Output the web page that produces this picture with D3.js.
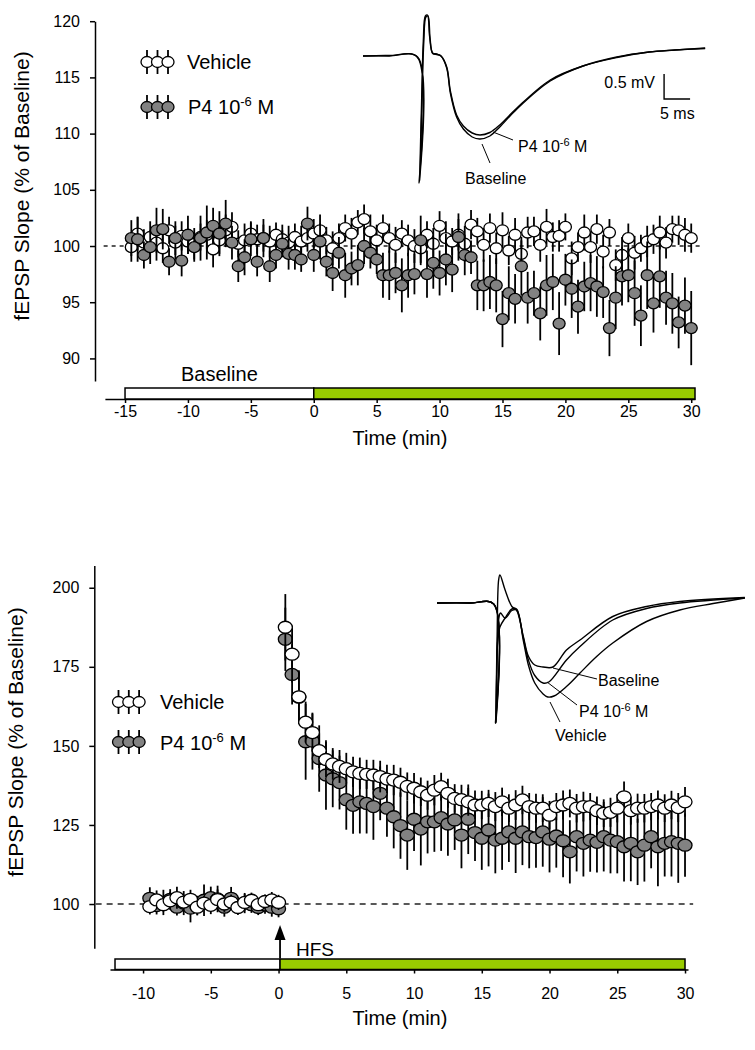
<!DOCTYPE html>
<html><head><meta charset="utf-8">
<script src="https://cdn.jsdelivr.net/npm/d3@7"></script>
<style>
body{margin:0;background:#fff}
svg{display:block}
text{font-family:"Liberation Sans",Arial,Helvetica,sans-serif;fill:#000}
</style></head>
<body><svg id="c" width="755" height="1050"></svg>
<script>
// ---------------- DATA ----------------
// Top panel: P4 10^-6 M alone (no HFS)
const topTime = [-14.5,-14,-13.5,-13,-12.5,-12,-11.5,-11,-10.5,-10,-9.5,-9,-8.5,-8,-7.5,-7,-6.5,-6,-5.5,-5,-4.5,-4,-3.5,-3,-2.5,-2,-1.5,-1,-0.5,0,0.5,1,1.5,2,2.5,3,3.5,4,4.5,5,5.5,6,6.5,7,7.5,8,8.5,9,9.5,10,10.5,11,11.5,12,12.5,13,13.5,14,14.5,15,15.5,16,16.5,17,17.5,18,18.5,19,19.5,20,20.5,21,21.5,22,22.5,23,23.5,24,24.5,25,25.5,26,26.5,27,27.5,28,28.5,29,29.5,30];
const topVehicle = [99.9,101.1,100.3,100.8,100.3,99.8,101.4,100.3,100.9,100.4,
100.2,100.8,101.0,99.7,100.5,101.4,101.7,100.2,100.5,101.1,
100.6,100.7,100.4,101.0,100.6,100.3,100.8,100.4,100.7,101.1,
101.4,100.5,99.8,100.7,101.6,101.1,102.1,102.4,101.3,100.5,
101.6,100.7,100.1,101.1,100.5,100.0,99.8,101.0,100.2,101.8,
100.7,100.4,101.0,100.2,101.9,101.3,100.1,101.6,
99.8,101.4,99.6,101.0,99.3,101.2,101.3,100.1,101.7,100.8,
100.9,101.7,98.9,99.9,101.2,99.9,101.5,99.5,101.2,98.3,
99.2,100.7,99.4,99.8,100.4,100.6,101.2,100.3,101.5,101.4,
101.0,100.7];
const topVehicleErr = [1.3,1.5,1.2,1.4,1.6,1.3,1.2,1.5,1.3,1.1,
1.4,1.2,1.3,1.6,1.2,1.4,1.3,1.2,1.5,1.1,
1.3,1.2,1.4,1.1,1.3,1.5,1.2,1.4,1.2,1.3,
1.4,1.2,1.5,1.3,1.2,1.4,1.1,1.3,1.5,1.4,
1.2,1.3,1.6,1.2,1.4,1.5,1.3,1.2,1.4,1.3,
1.5,1.2,1.4,1.6,1.3,1.2,1.5,1.3,
1.4,1.6,1.3,1.5,1.2,1.4,1.3,1.5,1.6,1.3,
1.4,1.2,1.5,1.3,1.6,1.4,1.3,1.5,1.2,1.4,
1.6,1.3,1.5,1.2,1.4,1.3,1.5,1.4,1.2,1.3,
1.5,1.3];
const topP4 = [100.7,100.6,99.2,99.9,101.4,101.5,98.6,100.7,98.7,101.0,
99.9,100.7,101.2,101.8,101.1,102.0,100.3,98.2,99.0,100.6,
98.6,100.7,98.2,99.2,100.2,99.3,99.2,98.8,102.0,99.2,
100.4,98.6,97.6,99.4,97.4,98.0,98.3,100.0,99.4,98.8,
97.4,97.4,97.6,96.5,97.4,97.5,100.5,97.5,98.5,97.6,
98.8,97.9,100.8,99.2,99.0,96.5,96.5,96.8,
96.5,93.5,95.8,95.3,98.2,95.4,95.8,94.0,96.5,96.8,
93.1,97.0,96.2,94.6,96.4,96.7,96.4,95.9,92.7,95.4,
97.3,97.4,95.8,93.8,97.4,94.9,97.3,95.4,94.9,93.2,
94.7,92.7];
const topP4Err = [1.6,2.0,1.2,1.5,2.0,1.8,1.2,1.5,1.4,1.7,
1.3,2.0,2.4,1.6,2.0,2.1,1.5,1.4,1.6,1.5,
1.3,1.7,1.4,1.2,1.2,1.4,1.3,1.1,1.5,1.5,
1.6,1.3,1.6,1.4,2.0,1.5,1.8,1.6,1.4,1.3,
2.0,2.2,1.8,2.4,2.0,1.8,2.2,2.1,2.3,2.0,
2.3,2.0,2.1,1.8,1.5,2.2,2.3,2.4,
2.4,2.5,2.4,2.2,2.6,2.3,2.0,2.4,2.7,2.5,
2.8,2.3,2.6,2.4,2.2,2.5,2.7,2.3,2.5,2.8,
2.6,2.4,2.9,2.7,3.0,2.6,2.8,2.4,2.7,2.3,
2.5,3.3];
const topYTicks = [90,95,100,105,110,115,120];
const topXTicks = [-15,-10,-5,0,5,10,15,20,25,30];
const topPhases = [[-15,0],[0,30.3]];   // baseline period, drug period (min)

// Bottom panel: LTP after HFS
const botTime = [-9.5,-9,-8.5,-8,-7.5,-7,-6.5,-6,-5.5,-5,-4.5,-4,-3.5,-3,-2.5,-2,-1.5,-1,-0.5,0,0.5,1,1.5,2,2.5,3,3.5,4,4.5,5,5.5,6,6.5,7,7.5,8,8.5,9,9.5,10,10.5,11,11.5,12,12.5,13,13.5,14,14.5,15,15.5,16,16.5,17,17.5,18,18.5,19,19.5,20,20.5,21,21.5,22,22.5,23,23.5,24,24.5,25,25.5,26,26.5,27,27.5,28,28.5,29,29.5,30];
const botVehicle = [99.2,101.3,99.8,101.0,102.0,100.6,101.5,99.0,100.3,99.6,
101.4,100.0,100.6,98.9,100.5,101.2,99.8,100.8,101.3,100.5,
187.5,179.0,165.5,157.5,154.2,148.5,145.7,144.3,143.5,142.8,
141.8,141.3,141.0,140.8,140.3,139.5,139.2,138.5,137.2,136.6,
135.5,134.4,136.0,137.1,135.0,133.4,133.0,132.3,131.3,131.3,
131.8,130.8,132.3,130.3,131.3,132.9,130.8,130.3,130.3,128.1,
130.8,131.3,131.8,130.3,130.8,130.8,129.5,128.7,129.0,130.3,
133.9,129.5,130.3,130.3,130.8,131.3,130.3,131.3,130.5,132.3];
const botVehicleErr = [2.5,3.0,2.2,2.8,3.5,2.4,3.0,2.6,2.2,2.8,
3.2,2.5,2.4,2.2,2.6,2.4,2.0,2.2,2.5,2.4,
10.5,9.0,8.0,6.5,6.0,5.5,5.5,5.0,5.2,5.0,
4.8,5.0,4.6,4.8,5.0,4.5,4.8,4.6,4.4,4.8,
4.5,4.6,4.8,4.4,4.6,4.5,4.7,4.4,4.6,4.5,
4.3,4.6,4.5,4.4,4.7,4.5,4.3,4.6,4.4,4.5,
4.3,4.6,4.4,4.5,4.7,4.3,4.5,4.4,4.6,4.5,
4.8,4.4,4.6,4.5,4.3,4.6,4.4,4.5,4.6,4.7];
const botP4 = [101.8,99.5,100.5,101.5,99.0,100.3,98.7,99.6,101.2,102.0,
101.6,99.0,101.8,99.4,100.3,99.8,98.9,99.7,99.0,98.5,
183.7,172.6,165.4,151.3,151.5,146.0,140.8,139.6,138.4,133.0,
131.2,132.3,131.8,130.8,135.0,130.3,127.6,124.8,121.8,126.8,
123.7,126.0,126.0,127.3,125.3,126.6,121.8,126.8,122.6,120.8,
123.4,120.2,120.8,122.8,120.8,122.8,121.3,121.0,122.8,120.5,
121.5,120.0,116.5,121.3,119.2,120.2,119.5,121.3,120.2,119.7,
118.1,119.2,116.5,118.6,121.3,118.1,119.2,119.7,119.2,118.6];
const botP4Err = [3.5,2.8,4.0,3.2,2.6,3.8,4.5,3.0,5.0,3.5,
4.2,3.0,3.6,2.8,3.2,2.6,2.4,2.8,3.0,2.7,
10.0,9.5,8.5,12.0,9.0,10.5,11.0,9.0,8.5,9.5,
9.0,10.0,9.5,10.5,8.5,9.0,10.0,10.5,11.0,10.0,
11.5,10.0,9.5,10.5,10.0,9.5,10.5,11.0,9.0,10.0,
11.5,10.5,10.0,9.5,11.0,10.5,10.0,9.5,11.0,10.5,
10.0,11.5,10.0,11.0,10.5,10.0,9.5,11.0,10.5,10.0,
11.0,12.0,10.5,11.5,10.0,12.5,10.5,11.0,12.5,10.0];
const botYTicks = [100,125,150,175,200];
const botXTicks = [-10,-5,0,5,10,15,20,25,30];
const botPhases = [[-12.07,0.11],[0.11,30]];
const hfsTime = 0.11;

// Inset traces: [ms, mV]
const topTraceBaseline = [[0,0],[5,0.01],[10.4,-0.02],[10.8,-2.54],[11.2,-1.2],[11.6,0.3],[12.0,0.8],[12.4,0.82],[12.8,0.4],[13.4,0.06],[14.2,0.04],[15,0.0],[16.1,-0.24],[16.8,-0.74],[18,-1.22],[19.3,-1.46],[21,-1.62],[22.5,-1.66],[24.4,-1.6],[26.3,-1.42],[29.6,-1.06],[36,-0.5],[42.3,-0.2],[48.8,-0.02],[55,0.08],[60,0.12],[65.8,0.16]];
const topTraceP4 = [[0,0],[5,0.0],[10.5,-0.02],[10.9,-2.5],[11.3,-1.1],[11.7,0.3],[12.1,0.78],[12.5,0.8],[12.9,0.35],[13.4,0.05],[14.2,0.03],[15,0.0],[16.1,-0.22],[16.8,-0.7],[18,-1.18],[19.3,-1.4],[21,-1.54],[22.5,-1.58],[24.4,-1.53],[26.3,-1.38],[29.6,-1.04],[36,-0.48],[42.3,-0.2],[48.8,-0.03],[55,0.08],[60,0.12],[65.8,0.15]];
const botTraceBaseline = [[0,0],[6.3,0],[10.9,-0.02],[11.25,-2.4],[11.55,-0.74],[11.85,0.46],[12.1,0.56],[13.1,0.26],[14.4,-0.07],[15.3,-0.14],[16.6,-0.67],[17.6,-1.07],[18.8,-1.24],[20.4,-1.28],[22.3,-1.28],[24.9,-0.94],[27.5,-0.74],[33.8,-0.27],[40.3,-0.07],[46.7,0.03],[59.2,0.11]];
const botTraceP4 = [[0,0],[6.3,0],[10.9,-0.02],[11.3,-2.4],[11.6,-0.9],[11.9,-0.3],[12.2,-0.2],[13.1,-0.3],[14.4,-0.15],[15.3,-0.14],[16.6,-0.7],[17.6,-1.15],[18.8,-1.45],[20.4,-1.6],[21.5,-1.58],[24.9,-1.14],[27.5,-0.87],[33.8,-0.34],[40.3,-0.11],[46.7,0.0],[59.2,0.1]];
const botTraceVehicle = [[0,0],[6.3,0],[10.9,-0.02],[11.35,-2.4],[11.65,-0.8],[12.1,-0.48],[13.1,-0.3],[14.4,-0.12],[15.3,-0.12],[16.6,-0.75],[17.6,-1.25],[18.8,-1.6],[20.4,-1.82],[21.3,-1.88],[22.5,-1.86],[24.9,-1.67],[27.5,-1.4],[30.7,-1.07],[33.8,-0.8],[40.3,-0.37],[46.7,-0.14],[53.1,-0.01],[59.2,0.1]];

// ---------------- DRAW ----------------
const svg = d3.select("#c");
svg.append("rect").attr("width",755).attr("height",1050).attr("fill","#fff");
const GREEN = "#99cc00", GRAY = "#828282";
const FF = '"Liberation Sans",Arial,sans-serif';

function panel(o){
  const g = svg.append("g");
  const x = d3.scaleLinear().domain(o.xDom).range(o.xRange);
  const y = d3.scaleLinear().domain(o.yDom).range(o.yRange);
  const fmt = d => String(d);  // plain hyphen-minus, as in the figure
  const ya = g.append("g").attr("transform",`translate(${o.yAxisX},0)`)
    .call(d3.axisLeft(y).tickValues(o.yTicks).tickFormat(fmt).tickSize(5).tickSizeOuter(0).tickPadding(10));
  ya.selectAll("path,line").attr("stroke","#000").attr("stroke-width",1.5);
  ya.selectAll("text").style("font-size","16px").style("font-family",FF);
  const xa = g.append("g").attr("transform",`translate(0,${o.xAxisY})`)
    .call(d3.axisBottom(x).tickValues(o.xTicks).tickFormat(fmt).tickSize(4).tickSizeOuter(0).tickPadding(o.xPad));
  xa.selectAll("path,line").attr("stroke","#000").attr("stroke-width",1.5);
  xa.selectAll("text").style("font-size","16px").style("font-family",FF);
  o.phases.forEach((p,i)=>{
    g.append("rect").attr("x",x(p[0])).attr("y",o.xAxisY-o.barH).attr("width",x(p[1])-x(p[0])).attr("height",o.barH)
      .attr("fill", i===0 ? "#fff" : GREEN).attr("stroke","#000").attr("stroke-width",1.5);
  });
  g.append("line").attr("x1",x(o.dash[0])).attr("x2",x(o.dash[1])).attr("y1",y(100)).attr("y2",y(100))
    .attr("stroke","#222").attr("stroke-width",1.3).attr("stroke-dasharray",o.dashArr);
  o.order.forEach(s=>{
    const sg = g.append("g");
    sg.selectAll("line").data(s.v).join("line")
      .attr("x1",(d,i)=>x(o.time[i])).attr("x2",(d,i)=>x(o.time[i]))
      .attr("y1",(d,i)=>y(d - s.e[i])).attr("y2",(d,i)=>y(d + s.e[i]))
      .attr("stroke","#000").attr("stroke-width",1.8);
    sg.selectAll("ellipse").data(s.v).join("ellipse")
      .attr("cx",(d,i)=>x(o.time[i])).attr("cy",d=>y(d))
      .attr("rx",o.rx).attr("ry",o.ry)
      .attr("fill",s.fill).attr("stroke","#000").attr("stroke-width",1.3);
  });
  g.append("text").attr("transform",`translate(${o.yTitle[0]},${o.yTitle[1]}) rotate(-90)`)
    .attr("text-anchor","middle").style("font-size","21px").text("fEPSP Slope (% of Baseline)");
  g.append("text").attr("x",o.xTitle[0]).attr("y",o.xTitle[1]).attr("text-anchor","middle")
    .style("font-size","20px").text("Time (min)");
  return {g,x,y};
}

function legend(x0, yv, yp, gap, ry, rx){
  const items = [{y:yv, fill:"#fff"},{y:yp, fill:GRAY}];
  items.forEach(it=>{
    for(let k=0;k<3;k++){
      const cx = x0 + k*gap;
      svg.append("line").attr("x1",cx).attr("x2",cx).attr("y1",it.y-12).attr("y2",it.y+12).attr("stroke","#000").attr("stroke-width",1.8);
      svg.append("ellipse").attr("cx",cx).attr("cy",it.y).attr("rx",rx).attr("ry",ry).attr("fill",it.fill).attr("stroke","#000").attr("stroke-width",1.3);
    }
  });
}
function p4Label(x,y,size,supSize){
  const t = svg.append("text").attr("x",x).attr("y",y).style("font-size",size+"px");
  t.append("tspan").text("P4 10");
  t.append("tspan").attr("dy",-size*0.38).style("font-size",supSize+"px").text("-6");
  t.append("tspan").attr("dy",size*0.38).text(" M");
  return t;
}

// ---- TOP PANEL
const T = panel({
  xDom:[-16.6,30.3], xRange:[104.9,695], yDom:[88,120], yRange:[380.9,21.2],
  yAxisX:95, xAxisY:399, xPad:3, barH:11,
  yTicks:topYTicks, xTicks:topXTicks, time:topTime, phases:topPhases,
  dash:[-16.7,30.7], dashArr:"4,4", rx:6, ry:5.5,
  order:[{v:topVehicle,e:topVehicleErr,fill:"#fff"},{v:topP4,e:topP4Err,fill:GRAY}],
  yTitle:[29,186], xTitle:[400,445]
});
svg.append("text").attr("x",T.x(-7.5)).attr("y",381).attr("text-anchor","middle").style("font-size","20px").text("Baseline");

legend(147,62,107,10.5,5.5,6);
svg.append("text").attr("x",187).attr("y",69).style("font-size","20px").text("Vehicle");
p4Label(188,114,20,13);

// top inset
{
  const xs = d3.scaleLinear().domain([0,5]).range([363,389]);
  const ys = d3.scaleLinear().domain([0,0.5]).range([56,31]);
  const ln = d3.line().x(d=>xs(d[0])).y(d=>ys(d[1])).curve(d3.curveCatmullRom.alpha(0.5));
  [topTraceBaseline, topTraceP4].forEach(tr=>{
    svg.append("path").attr("d",ln(tr)).attr("fill","none").attr("stroke","#000").attr("stroke-width",1.4);
  });
  const sx = 57.9, sy = -0.36;
  svg.append("path").attr("d",`M${xs(sx)},${ys(sy)}V${ys(sy-0.5)}H${xs(sx+5)}`).attr("fill","none").attr("stroke","#000").attr("stroke-width",1.4);
  svg.append("text").attr("x",655).attr("y",88).attr("text-anchor","end").style("font-size","16px").text("0.5 mV");
  svg.append("text").attr("x",660).attr("y",119).style("font-size","16px").text("5 ms");
  svg.append("line").attr("x1",493).attr("y1",132).attr("x2",513).attr("y2",140).attr("stroke","#000").attr("stroke-width",1);
  p4Label(518,152,16,11);
  svg.append("line").attr("x1",482).attr("y1",144).attr("x2",490).attr("y2",163).attr("stroke","#000").attr("stroke-width",1);
  svg.append("text").attr("x",465).attr("y",184).style("font-size","16px").text("Baseline");
}

// ---- BOTTOM PANEL
const B = panel({
  xDom:[-12.44,30.22], xRange:[110,688], yDom:[86,207], yRange:[948.3,565.6],
  yAxisX:94.3, xAxisY:969.5, xPad:14, barH:10.5,
  yTicks:botYTicks, xTicks:botXTicks, time:botTime, phases:botPhases,
  dash:[-13.5,30.6], dashArr:"6,5", rx:7, ry:6,
  order:[{v:botP4,e:botP4Err,fill:GRAY},{v:botVehicle,e:botVehicleErr,fill:"#fff"}],
  yTitle:[23,742], xTitle:[400,1025]
});
{
  const ax = B.x(hfsTime);
  svg.append("line").attr("x1",ax).attr("x2",ax).attr("y1",938).attr("y2",958).attr("stroke","#000").attr("stroke-width",1.8);
  svg.append("path").attr("d",`M${ax},925L${ax-5.5},940L${ax+5.5},940Z`).attr("fill","#000");
  svg.append("text").attr("x",ax+16).attr("y",956).style("font-size","19px").text("HFS");
}
legend(118.5,702,742,10.3,5.5,6);
svg.append("text").attr("x",160).attr("y",709).style("font-size","20px").text("Vehicle");
p4Label(160,750,20,13);

// bottom inset
{
  const xs = d3.scaleLinear().domain([0,5]).range([437,463]);
  const ys = d3.scaleLinear().domain([0,0.5]).range([603,578]);
  const ln = d3.line().x(d=>xs(d[0])).y(d=>ys(d[1])).curve(d3.curveCatmullRom.alpha(0.5));
  [botTraceBaseline, botTraceP4, botTraceVehicle].forEach(tr=>{
    svg.append("path").attr("d",ln(tr)).attr("fill","none").attr("stroke","#000").attr("stroke-width",1.4);
  });
  svg.append("line").attr("x1",553).attr("y1",668).attr("x2",597).attr("y2",679).attr("stroke","#000").attr("stroke-width",1);
  svg.append("text").attr("x",598).attr("y",686).style("font-size","16px").text("Baseline");
  svg.append("line").attr("x1",547).attr("y1",682).attr("x2",577).attr("y2",705).attr("stroke","#000").attr("stroke-width",1);
  p4Label(579,717,16,11);
  svg.append("line").attr("x1",550).attr("y1",702).attr("x2",560).attr("y2",722).attr("stroke","#000").attr("stroke-width",1);
  svg.append("text").attr("x",555).attr("y",741).style("font-size","16px").text("Vehicle");
}
</script></body></html>
